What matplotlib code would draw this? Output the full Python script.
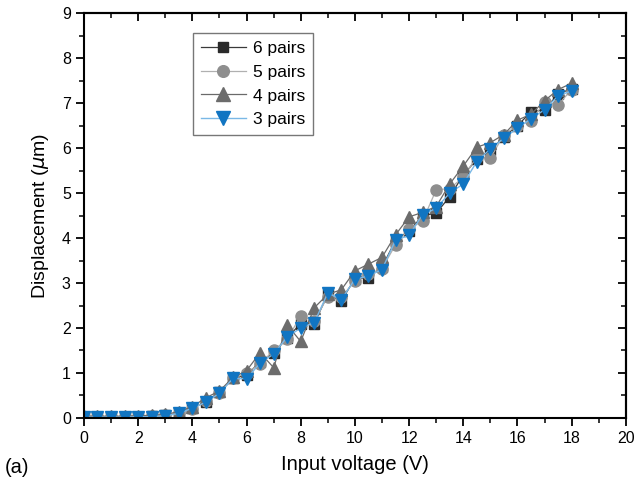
import numpy as np
import matplotlib
matplotlib.use("Agg")
import matplotlib.pyplot as plt
from matplotlib.ticker import MultipleLocator

plt.rcParams['font.family'] = ['Liberation Sans', 'DejaVu Sans']

voltage = [i * 0.5 for i in range(37)]
pairs6 = [0.02,0.02,0.02,0.02,0.03,0.04,0.06,0.1,0.22,0.36,0.57,0.88,0.95,1.25,1.45,1.78,2.1,2.1,2.75,2.6,3.1,3.12,3.35,3.95,4.15,4.5,4.55,4.92,5.4,5.75,5.95,6.25,6.5,6.8,6.85,7.2,7.32]
pairs5 = [0.02,0.02,0.02,0.02,0.03,0.04,0.06,0.1,0.2,0.38,0.55,0.88,1.0,1.2,1.5,1.75,2.27,2.15,2.7,2.68,3.05,3.2,3.32,3.85,4.2,4.38,5.07,5.1,5.35,5.8,5.77,6.3,6.5,6.6,7.02,6.96,7.3]
pairs4 = [0.04,0.04,0.04,0.04,0.05,0.06,0.08,0.14,0.25,0.45,0.6,0.9,1.05,1.45,1.12,2.07,1.7,2.45,2.75,2.85,3.27,3.42,3.57,4.07,4.47,4.57,4.7,5.2,5.6,6.02,6.12,6.3,6.62,6.75,7.05,7.3,7.44]
pairs3 = [0.02,0.02,0.02,0.02,0.03,0.03,0.05,0.1,0.22,0.35,0.55,0.88,0.87,1.22,1.42,1.8,2.0,2.12,2.78,2.63,3.08,3.16,3.3,3.95,4.06,4.52,4.66,5.0,5.2,5.7,5.98,6.22,6.44,6.65,6.85,7.16,7.27]

fig = plt.figure(figsize=(6.36, 4.83), dpi=100)
ax = fig.add_axes([0.132, 0.1346, 0.852, 0.8384])

ms = 8
ax.plot(voltage, pairs6, color='#3a3a3a', lw=0.9, marker='s', ms=7, mfc='#2a2a2a', mec='#2a2a2a', label='6 pairs')
ax.plot(voltage, pairs5, color='#b0b0b0', lw=0.9, marker='o', ms=ms, mfc='#8e8e8e', mec='#8e8e8e', label='5 pairs')
ax.plot(voltage, pairs4, color='#6a6a6a', lw=0.9, marker='^', ms=ms+1, mfc='#6c6c6c', mec='#6c6c6c', label='4 pairs')
ax.plot(voltage, pairs3, color='#7ab8e6', lw=1.0, marker='v', ms=ms+1, mfc='#1175c2', mec='#1175c2', label='3 pairs')

ax.set_xlim(0, 20)
ax.set_ylim(0, 9)
ax.xaxis.set_major_locator(MultipleLocator(2))
ax.xaxis.set_minor_locator(MultipleLocator(1))
ax.yaxis.set_major_locator(MultipleLocator(1))
ax.yaxis.set_minor_locator(MultipleLocator(0.5))
ax.tick_params(which='major', direction='out', length=6, width=1.3, labelsize=11.5)
ax.tick_params(which='minor', direction='out', length=3.5, width=1.1)
for s in ax.spines.values():
    s.set_linewidth(1.5)

top = ax.secondary_xaxis('top')
top.xaxis.set_major_locator(MultipleLocator(2))
top.xaxis.set_minor_locator(MultipleLocator(1))
top.tick_params(which='major', direction='in', length=6, width=1.3, labeltop=False)
top.tick_params(which='minor', direction='in', length=3.5, width=1.1)
top.spines['top'].set_linewidth(1.5)
right = ax.secondary_yaxis('right')
right.yaxis.set_major_locator(MultipleLocator(1))
right.yaxis.set_minor_locator(MultipleLocator(0.5))
right.tick_params(which='major', direction='in', length=6, width=1.3, labelright=False)
right.tick_params(which='minor', direction='in', length=3.5, width=1.1)
right.spines['right'].set_linewidth(1.5)

ax.set_xlabel('Input voltage (V)', fontsize=14.5, labelpad=6)
ax.set_ylabel(r'Displacement ($\mu$m)', fontsize=14, labelpad=8)

leg = ax.legend(loc='upper left', bbox_to_anchor=(0.201, 0.951), borderaxespad=0, fontsize=12.5,
                frameon=True, fancybox=False, edgecolor='#555555',
                handlelength=2.6, borderpad=0.45, labelspacing=0.5, handletextpad=0.4,
                markerscale=1.05)
leg.get_frame().set_linewidth(1.0)

fig.text(0.008, 0.02, '(a)', fontsize=14.5)

fig.savefig('out.png', dpi=100)
